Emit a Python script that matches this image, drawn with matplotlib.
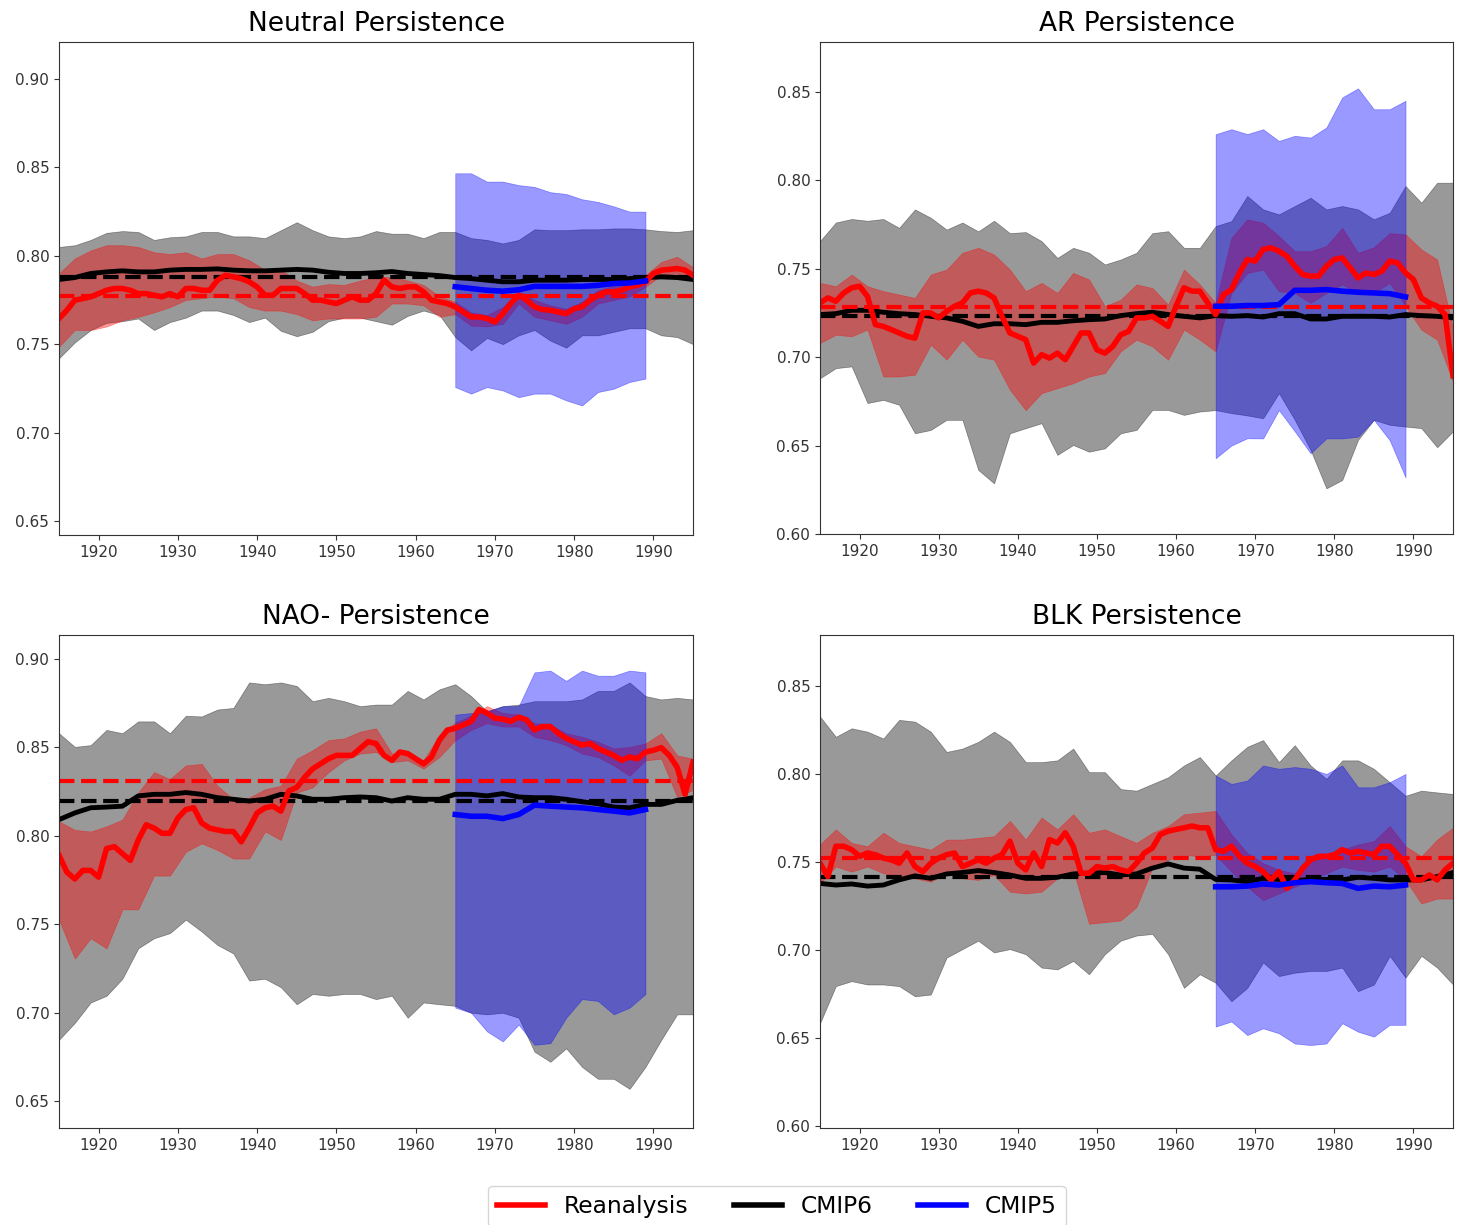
import numpy as np
import matplotlib
matplotlib.use("Agg")
import matplotlib.pyplot as plt
from matplotlib.lines import Line2D

# years
years = np.arange(1915, 1996, 2)        # spread bands and CMIP6 mean
years_rea = np.arange(1915, 1996)       # reanalysis mean (yearly)
years_c5 = np.arange(1965, 1990, 2)     # CMIP5 period

titles = ["Neutral Persistence", "AR Persistence", "NAO- Persistence", "BLK Persistence"]

# ---------------- Neutral ----------------
neu_c6_hi = [0.805, 0.806, 0.809, 0.813, 0.814, 0.8135, 0.809, 0.8105, 0.811, 0.8135, 0.8135, 0.811, 0.811, 0.810,
             0.8145, 0.819, 0.8145, 0.811, 0.810, 0.811, 0.814, 0.8125, 0.8125, 0.810, 0.8135, 0.8135, 0.810, 0.809,
             0.807, 0.809, 0.815, 0.8145, 0.8145, 0.815, 0.815, 0.8155, 0.8155, 0.815, 0.814, 0.8135, 0.8145]
neu_c6_lo = [0.742, 0.751, 0.758, 0.762, 0.763, 0.7645, 0.758, 0.7625, 0.765, 0.769, 0.769, 0.7665, 0.7625, 0.765,
             0.7575, 0.7545, 0.757, 0.763, 0.765, 0.765, 0.763, 0.761, 0.766, 0.769, 0.7665, 0.754, 0.7465, 0.7535,
             0.750, 0.755, 0.758, 0.752, 0.748, 0.755, 0.755, 0.757, 0.759, 0.759, 0.755, 0.754, 0.750]
neu_rea_hi = [0.790, 0.7985, 0.803, 0.806, 0.806, 0.805, 0.802, 0.801, 0.802, 0.7985, 0.801, 0.801, 0.7975, 0.792,
              0.792, 0.786, 0.7825, 0.784, 0.7835, 0.786, 0.788, 0.788, 0.786, 0.7835, 0.777, 0.774, 0.768, 0.7665,
              0.771, 0.780, 0.775, 0.772, 0.770, 0.774, 0.7805, 0.783, 0.786, 0.789, 0.7965, 0.7995, 0.7935]
neu_rea_lo = [0.7485, 0.758, 0.758, 0.760, 0.7635, 0.7655, 0.768, 0.771, 0.775, 0.776, 0.777, 0.776, 0.771, 0.769,
              0.769, 0.767, 0.7635, 0.7645, 0.7645, 0.7645, 0.7655, 0.773, 0.773, 0.772, 0.7655, 0.767, 0.7605, 0.760,
              0.7615, 0.773, 0.7655, 0.7635, 0.7615, 0.7655, 0.773, 0.775, 0.777, 0.7825, 0.789, 0.790, 0.786]
neu_rea = [0.7645, 0.7692, 0.7749, 0.7758, 0.7768, 0.7786, 0.7805, 0.7815, 0.7815, 0.7805, 0.7786, 0.7786, 0.7777,
           0.7768, 0.7786, 0.7768, 0.7815, 0.7815, 0.7805, 0.7805, 0.7862, 0.789, 0.7881, 0.7871, 0.7853, 0.7824,
           0.7777, 0.7777, 0.7815, 0.7815, 0.7815, 0.7786, 0.7749, 0.7749, 0.7739, 0.773, 0.7749, 0.7768, 0.7749,
           0.7749, 0.7786, 0.7862, 0.7824, 0.7815, 0.7824, 0.7824, 0.7796, 0.7749, 0.7739, 0.773, 0.7711, 0.7682,
           0.7654, 0.7654, 0.7645, 0.7626, 0.7673, 0.773, 0.7777, 0.7749, 0.7711, 0.7696, 0.7692, 0.7682, 0.7673,
           0.7701, 0.7711, 0.7749, 0.7777, 0.7796, 0.7796, 0.7805, 0.7824, 0.7834, 0.7853, 0.79, 0.7919, 0.7923,
           0.7928, 0.7919, 0.789]
neu_c6 = [0.7866, 0.7877, 0.790, 0.7909, 0.7915, 0.7909, 0.7909, 0.7919, 0.7923, 0.7923, 0.7926, 0.7919, 0.7915,
          0.7915, 0.7919, 0.7923, 0.7919, 0.7907, 0.790, 0.790, 0.7904, 0.7911, 0.790, 0.7894, 0.7888, 0.7877, 0.7871,
          0.7862, 0.7853, 0.7853, 0.7862, 0.7862, 0.7862, 0.7866, 0.7866, 0.7866, 0.7871, 0.7877, 0.7881, 0.7877, 0.7866]
neu_c5_hi = [0.8467, 0.8467, 0.842, 0.842, 0.840, 0.839, 0.836, 0.835, 0.832, 0.8305, 0.828, 0.825, 0.825]
neu_c5_lo = [0.7257, 0.722, 0.7257, 0.7238, 0.720, 0.722, 0.722, 0.7182, 0.7153, 0.7229, 0.7248, 0.7286, 0.7305]
neu_c5 = [0.7825, 0.7815, 0.7805, 0.780, 0.7808, 0.7827, 0.7827, 0.7827, 0.7827, 0.7833, 0.7843, 0.7846, 0.7858]
neu_clim = [0.7773, 0.788]   # reanalysis, CMIP6

# ---------------- AR ----------------
ar_c6_hi = [0.7655, 0.776, 0.778, 0.777, 0.778, 0.773, 0.7834, 0.7787, 0.772, 0.776, 0.771, 0.777, 0.770, 0.7706,
            0.7655, 0.756, 0.7617, 0.7589, 0.7523, 0.7551, 0.7589, 0.770, 0.7711, 0.7617, 0.7617, 0.774, 0.7768,
            0.791, 0.7834, 0.7806, 0.7853, 0.790, 0.7834, 0.7853, 0.7834, 0.7778, 0.7815, 0.7966, 0.7872, 0.7985, 0.7985]
ar_c6_lo = [0.688, 0.6937, 0.6947, 0.674, 0.6758, 0.673, 0.6569, 0.6588, 0.6645, 0.6645, 0.6362, 0.6286, 0.6569,
            0.6598, 0.6626, 0.6447, 0.6503, 0.6465, 0.6484, 0.6569, 0.6588, 0.6701, 0.6701, 0.6673, 0.6692, 0.670,
            0.6683, 0.667, 0.6654, 0.6796, 0.6645, 0.6475, 0.6258, 0.6305, 0.6532, 0.6645, 0.6617, 0.6607, 0.6598,
            0.649, 0.658]
ar_rea_hi = [0.7419, 0.740, 0.7466, 0.740, 0.7372, 0.7353, 0.7334, 0.7466, 0.7494, 0.7589, 0.7617, 0.7579, 0.7494,
             0.7372, 0.7419, 0.7362, 0.7475, 0.7438, 0.7287, 0.7324, 0.741, 0.739, 0.7296, 0.7494, 0.741, 0.7306,
             0.7674, 0.7778, 0.7759, 0.7683, 0.7598, 0.7598, 0.7627, 0.773, 0.7589, 0.762, 0.770, 0.7693, 0.7608,
             0.7551, 0.716]
ar_rea_lo = [0.7079, 0.7126, 0.7117, 0.7155, 0.689, 0.689, 0.690, 0.707, 0.6985, 0.7098, 0.7003, 0.6985, 0.6815,
             0.670, 0.6796, 0.6824, 0.6852, 0.689, 0.6909, 0.7032, 0.7098, 0.706, 0.6985, 0.7155, 0.7098, 0.7032,
             0.7362, 0.7475, 0.7494, 0.7372, 0.7362, 0.7306, 0.7362, 0.741, 0.7362, 0.7362, 0.7419, 0.7287, 0.7155,
             0.7098, 0.686]
ar_rea = [0.7306, 0.7334, 0.7315, 0.7362, 0.7391, 0.74, 0.7343, 0.7183, 0.7173, 0.7155, 0.7136, 0.7117, 0.7107,
          0.7249, 0.7249, 0.7221, 0.7258, 0.7287, 0.7306, 0.7362, 0.7372, 0.7362, 0.7334, 0.723, 0.7136, 0.7117,
          0.7098, 0.6966, 0.7013, 0.6994, 0.7022, 0.6985, 0.706, 0.7136, 0.7136, 0.7041, 0.7022, 0.706, 0.7126,
          0.7145, 0.7221, 0.7221, 0.723, 0.7202, 0.7173, 0.7287, 0.7391, 0.7372, 0.7372, 0.7306, 0.724, 0.7353,
          0.7381, 0.7475, 0.7551, 0.7542, 0.7608, 0.7617, 0.7598, 0.757, 0.7513, 0.7466, 0.7457, 0.7457, 0.7513,
          0.7551, 0.756, 0.7504, 0.7447, 0.7475, 0.7466, 0.7485, 0.7542, 0.7532, 0.7475, 0.7438, 0.7334, 0.7306,
          0.7287, 0.724, 0.6894]
ar_c6 = [0.724, 0.7245, 0.7264, 0.7264, 0.7253, 0.7245, 0.724, 0.723, 0.7221, 0.7202, 0.7173, 0.7188, 0.7188, 0.7183,
         0.7196, 0.7196, 0.7205, 0.7211, 0.7215, 0.7234, 0.7245, 0.7253, 0.724, 0.723, 0.7221, 0.7234, 0.723, 0.7234,
         0.7226, 0.7245, 0.7245, 0.7215, 0.7215, 0.723, 0.723, 0.723, 0.7226, 0.724, 0.7234, 0.723, 0.7221]
ar_c5_hi = [0.8259, 0.8287, 0.826, 0.8287, 0.8221, 0.825, 0.824, 0.8297, 0.8467, 0.8518, 0.840, 0.840, 0.8448]
ar_c5_lo = [0.6428, 0.650, 0.6541, 0.654, 0.670, 0.658, 0.6456, 0.654, 0.654, 0.655, 0.6645, 0.653, 0.632]
ar_c5 = [0.7287, 0.7287, 0.7291, 0.7291, 0.7296, 0.7377, 0.7377, 0.7381, 0.7372, 0.7366, 0.7362, 0.7358, 0.734]
ar_clim = [0.7285, 0.723]

# ---------------- NAO- ----------------
nao_c6_hi = [0.858, 0.8503, 0.8513, 0.8599, 0.858, 0.8647, 0.8647, 0.858, 0.8679, 0.8675, 0.8714, 0.8723, 0.8867,
             0.8857, 0.8867, 0.8847, 0.8761, 0.878, 0.8761, 0.8733, 0.8742, 0.8742, 0.8819, 0.8771, 0.8828, 0.8857,
             0.879, 0.8704, 0.8733, 0.8742, 0.8761, 0.8761, 0.8761, 0.8771, 0.8819, 0.8819, 0.8867, 0.879, 0.8771,
             0.878, 0.8771]
nao_c6_lo = [0.6848, 0.6944, 0.7059, 0.7097, 0.7193, 0.7365, 0.7422, 0.7451, 0.7527, 0.746, 0.7384, 0.7336, 0.7183,
             0.7193, 0.7145, 0.7049, 0.7107, 0.7097, 0.7107, 0.7107, 0.7078, 0.7097, 0.6973, 0.7059, 0.7049, 0.704,
             0.7001, 0.6992, 0.7001, 0.6973, 0.6781, 0.6724, 0.680, 0.6695, 0.6628, 0.6628, 0.6571, 0.6695, 0.6848,
             0.6992, 0.6992]
nao_rea_hi = [0.8082, 0.8034, 0.8025, 0.8054, 0.8092, 0.8245, 0.836, 0.8321, 0.8398, 0.8407, 0.8283, 0.8207, 0.8216,
              0.8264, 0.8283, 0.8436, 0.8484, 0.8541, 0.8551, 0.8589, 0.8608, 0.8465, 0.8474, 0.8427, 0.857, 0.864,
              0.868, 0.8733, 0.8694, 0.8685, 0.8637, 0.8628, 0.858, 0.856, 0.8532, 0.8494, 0.8503, 0.8522, 0.858,
              0.8455, 0.8436]
nao_rea_lo = [0.7527, 0.7307, 0.7422, 0.7365, 0.7585, 0.7585, 0.7776, 0.7776, 0.791, 0.7958, 0.792, 0.7872, 0.7872,
              0.8025, 0.7977, 0.8245, 0.8274, 0.836, 0.8427, 0.8465, 0.8474, 0.8417, 0.8427, 0.838, 0.8446, 0.8541,
              0.8599, 0.8637, 0.8618, 0.8618, 0.856, 0.8541, 0.8513, 0.8465, 0.8446, 0.8398, 0.834, 0.8427, 0.8436,
              0.822, 0.826]
nao_rea = [0.7891, 0.7795, 0.7757, 0.7805, 0.7805, 0.7767, 0.7929, 0.7939, 0.790, 0.7862, 0.7977, 0.8063, 0.8044,
           0.8015, 0.8015, 0.8101, 0.8149, 0.8159, 0.8073, 0.8044, 0.8034, 0.8025, 0.8025, 0.7967, 0.8044, 0.813,
           0.8159, 0.8168, 0.814, 0.8254, 0.8274, 0.8331, 0.8379, 0.8407, 0.8436, 0.8455, 0.8455, 0.8455, 0.8494,
           0.8532, 0.8522, 0.8455, 0.8427, 0.8474, 0.8465, 0.8436, 0.8407, 0.8446, 0.8541, 0.8598, 0.8608, 0.8627,
           0.8647, 0.8714, 0.8694, 0.8665, 0.866, 0.8647, 0.8671, 0.8656, 0.8599, 0.8618, 0.8618, 0.858, 0.8551,
           0.8532, 0.8513, 0.8522, 0.8494, 0.8474, 0.8455, 0.8427, 0.8446, 0.8436, 0.8474, 0.8484, 0.8499, 0.8455,
           0.8388, 0.8235, 0.8417]
nao_c6 = [0.8092, 0.813, 0.8159, 0.8163, 0.8168, 0.8226, 0.8235, 0.8235, 0.8245, 0.8235, 0.8216, 0.8207, 0.8197,
          0.8207, 0.8235, 0.8226, 0.8207, 0.8207, 0.8216, 0.822, 0.8216, 0.8197, 0.8216, 0.8207, 0.8207, 0.8235,
          0.8235, 0.8226, 0.8239, 0.822, 0.8216, 0.8216, 0.8207, 0.8193, 0.8182, 0.8163, 0.8159, 0.8178, 0.8178,
          0.8201, 0.8216]
nao_c5_hi = [0.8685, 0.8694, 0.8704, 0.8733, 0.8733, 0.8924, 0.8934, 0.8876, 0.8934, 0.8905, 0.8905, 0.8934, 0.8924]
nao_c5_lo = [0.703, 0.7001, 0.6896, 0.6839, 0.6934, 0.682, 0.6829, 0.6973, 0.7078, 0.7068, 0.6992, 0.703, 0.7107]
nao_c5 = [0.8121, 0.8111, 0.8111, 0.8098, 0.8121, 0.8174, 0.8168, 0.8163, 0.8159, 0.8149, 0.814, 0.813, 0.8149]
nao_clim = [0.8312, 0.8197]

# ---------------- BLK ----------------
blk_c6_hi = [0.8327, 0.8212, 0.826, 0.8241, 0.8202, 0.8308, 0.8298, 0.8241, 0.8126, 0.8145, 0.8183, 0.8241, 0.8183,
             0.8068, 0.8068, 0.8078, 0.8145, 0.8011, 0.8011, 0.7915, 0.7906, 0.7944, 0.7982, 0.8049, 0.8097, 0.7992,
             0.8078, 0.8155, 0.8193, 0.8068, 0.8164, 0.8049, 0.7973, 0.8078, 0.8078, 0.803, 0.7954, 0.7877, 0.7906,
             0.7896, 0.7887]
blk_c6_lo = [0.6585, 0.6796, 0.6824, 0.6805, 0.6805, 0.6796, 0.6738, 0.6748, 0.6958, 0.7006, 0.7054, 0.6987, 0.7006,
             0.6977, 0.6901, 0.6891, 0.6939, 0.6863, 0.6977, 0.7054, 0.7083, 0.7092, 0.6977, 0.6786, 0.6863, 0.6815,
             0.671, 0.6786, 0.693, 0.6853, 0.6872, 0.6882, 0.6882, 0.6901, 0.6767, 0.6805, 0.6968, 0.6844, 0.6968,
             0.6901, 0.6805]
blk_rea_hi = [0.76, 0.7686, 0.7609, 0.759, 0.7667, 0.7609, 0.759, 0.7571, 0.7628, 0.7628, 0.7638, 0.7647, 0.7734,
              0.7628, 0.7753, 0.7686, 0.7772, 0.7667, 0.7686, 0.7647, 0.7609, 0.7667, 0.7705, 0.7772, 0.7781, 0.7791,
              0.7657, 0.7552, 0.7494, 0.7456, 0.7437, 0.7513, 0.7542, 0.7571, 0.76, 0.7619, 0.7705, 0.759, 0.7533,
              0.7628, 0.7695]
blk_rea_lo = [0.738, 0.7475, 0.7446, 0.7475, 0.7437, 0.7418, 0.7408, 0.7389, 0.7437, 0.7408, 0.7399, 0.7427, 0.7332,
              0.7322, 0.7332, 0.7408, 0.7456, 0.715, 0.7159, 0.7169, 0.7245, 0.7466, 0.7513, 0.7542, 0.7533, 0.7542,
              0.7446, 0.736, 0.7284, 0.7322, 0.736, 0.7399, 0.7437, 0.7475, 0.7456, 0.7446, 0.7475, 0.7399, 0.7265,
              0.7293, 0.7293]
blk_rea = [0.7494, 0.7418, 0.759, 0.759, 0.7571, 0.7533, 0.7552, 0.7542, 0.7523, 0.7513, 0.7494, 0.7552, 0.7475,
           0.7446, 0.7494, 0.7523, 0.7542, 0.7552, 0.7475, 0.7494, 0.7513, 0.7494, 0.7523, 0.7542, 0.7619, 0.7494,
           0.7456, 0.7552, 0.7475, 0.7628, 0.7609, 0.7667, 0.759, 0.7437, 0.7437, 0.7475, 0.7466, 0.7475, 0.7456,
           0.7446, 0.7494, 0.7552, 0.758, 0.7657, 0.7676, 0.7686, 0.7695, 0.7705, 0.7695, 0.7695, 0.7571, 0.7561,
           0.759, 0.7533, 0.7494, 0.7475, 0.7446, 0.7399, 0.7446, 0.7351, 0.7399, 0.7466, 0.7513, 0.7533, 0.7533,
           0.7542, 0.7571, 0.7552, 0.7561, 0.7552, 0.7542, 0.759, 0.759, 0.7542, 0.7494, 0.7399, 0.7399, 0.7427,
           0.7399, 0.7456, 0.7494]
blk_c6 = [0.7379, 0.737, 0.7376, 0.7364, 0.737, 0.7399, 0.7422, 0.7408, 0.7433, 0.7441, 0.7452, 0.7441, 0.7427,
          0.7408, 0.7408, 0.7414, 0.7433, 0.7437, 0.7441, 0.7427, 0.7433, 0.7466, 0.749, 0.7466, 0.746, 0.7402,
          0.7399, 0.7389, 0.7408, 0.7402, 0.7395, 0.7402, 0.7402, 0.7399, 0.7414, 0.7408, 0.7399, 0.7399, 0.7399,
          0.7418, 0.7441]
blk_c5_hi = [0.7992, 0.7944, 0.7963, 0.8049, 0.803, 0.804, 0.803, 0.8001, 0.8049, 0.7925, 0.7925, 0.7954, 0.8001]
blk_c5_lo = [0.6566, 0.6595, 0.6518, 0.6556, 0.6528, 0.647, 0.6461, 0.647, 0.6585, 0.6537, 0.6509, 0.6576, 0.6576]
blk_c5 = [0.736, 0.736, 0.7364, 0.7376, 0.737, 0.7383, 0.7389, 0.7383, 0.7379, 0.7351, 0.7364, 0.736, 0.737]
blk_clim = [0.7523, 0.7414]

paneles = [
    (neu_c6_lo, neu_c6_hi, neu_rea_lo, neu_rea_hi, neu_c5_lo, neu_c5_hi, neu_rea, neu_c6, neu_c5, neu_clim),
    (ar_c6_lo, ar_c6_hi, ar_rea_lo, ar_rea_hi, ar_c5_lo, ar_c5_hi, ar_rea, ar_c6, ar_c5, ar_clim),
    (nao_c6_lo, nao_c6_hi, nao_rea_lo, nao_rea_hi, nao_c5_lo, nao_c5_hi, nao_rea, nao_c6, nao_c5, nao_clim),
    (blk_c6_lo, blk_c6_hi, blk_rea_lo, blk_rea_hi, blk_c5_lo, blk_c5_hi, blk_rea, blk_c6, blk_c5, blk_clim),
]

# axes boxes measured in pixels on a 1464x1225 canvas
W, H = 1464.0, 1225.0
cajas = [(59, 42, 693, 535), (820, 42, 1453, 534), (59, 635, 693, 1128), (820, 635, 1453, 1128)]
ylims = [(0.642, 0.921), (0.600, 0.878), (0.635, 0.9135), (0.599, 0.879)]

fig = plt.figure(figsize=(14.64, 12.25), dpi=100)

for i, datos in enumerate(paneles):
    c6_lo, c6_hi, rea_lo, rea_hi, c5_lo, c5_hi, rea, c6, c5, clim = datos
    x0, y0, x1, y1 = cajas[i]
    ax = fig.add_axes([x0 / W, 1 - y1 / H, (x1 - x0) / W, (y1 - y0) / H])

    ax.fill_between(years, c6_lo, c6_hi, color="k", alpha=0.4, lw=0.5)
    ax.fill_between(years, rea_lo, rea_hi, color="r", alpha=0.4, lw=0.5)
    ax.fill_between(years_c5, c5_lo, c5_hi, color="b", alpha=0.4, lw=0.5)

    ax.plot(years, c6, color="k", lw=3.5)
    ax.axhline(clim[1], color="k", lw=3, ls="--")
    ax.plot(years_rea, rea, color="r", lw=4)
    ax.axhline(clim[0], color="r", lw=3, ls="--")
    ax.plot(years_c5, c5, color="b", lw=4)

    ax.set_xlim(1915, 1995)
    ax.set_ylim(*ylims[i])
    ax.set_xticks(np.arange(1920, 1991, 10))
    ax.yaxis.set_major_locator(plt.MultipleLocator(0.05))
    ax.yaxis.set_major_formatter(plt.FormatStrFormatter("%.2f"))
    ax.tick_params(labelsize=11, colors="#333333")
    for s in ax.spines.values():
        s.set_color("#333333")
    ax.set_title(titles[i], fontsize=19, pad=8)

handles = [Line2D([], [], color="r", lw=4), Line2D([], [], color="k", lw=4), Line2D([], [], color="b", lw=4)]
fig.legend(handles, ["Reanalysis", "CMIP6", "CMIP5"], loc="upper center", bbox_to_anchor=(0.5307, 0.032),
           borderaxespad=0, ncol=3, fontsize=16.8, handlelength=2.05, columnspacing=1.95)

fig.savefig("out.png", dpi=100)
plt.close(fig)
